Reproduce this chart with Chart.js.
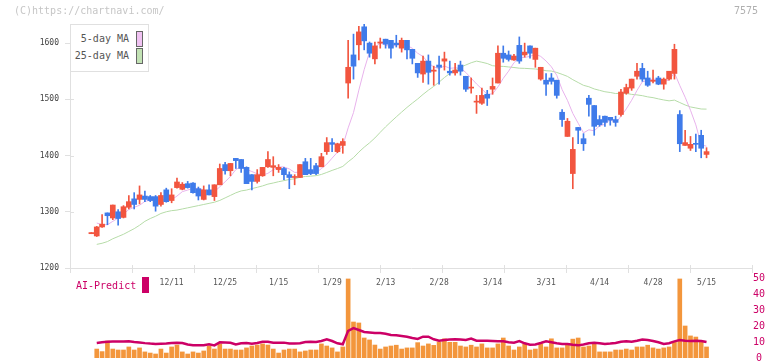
<!DOCTYPE html>
<html>
<head>
<meta charset="utf-8">
<script src="https://cdn.jsdelivr.net/npm/chart.js@4.4.1/dist/chart.umd.min.js"></script>
<style>
  body { margin: 0; background: #fff; }
  #wrap { position: relative; width: 772px; height: 361px; overflow: hidden; font-family: "DejaVu Sans Mono", monospace; }
  canvas { position: absolute; left: 0; }
  #main { top: 0; }
  #sub { top: 268px; }
  .txt { position: absolute; font-size: 10px; line-height: 12px; white-space: nowrap; z-index: 5; }
  #legend { position: absolute; left: 70px; top: 24px; width: 79px; height: 48px; box-sizing: border-box;
            border: 1px solid #e0e0e0; background: #fff; z-index: 4; }
  .sw { position: absolute; width: 7px; height: 16px; box-sizing: border-box; border: 1px solid #666; z-index: 5; }
</style>
</head>
<body>
<div id="wrap">
  <canvas id="main" width="772" height="300"></canvas>
  <canvas id="sub" width="772" height="100"></canvas>
  <div class="txt" style="left:14px; top:5px; color:#c6c6c6;">(C)https://chartnavi.com/</div>
  <div class="txt" style="right:14px; top:5px; color:#b0b0b0;">7575</div>
  <div id="legend"></div>
  <div class="txt" style="right:643px; top:33px; color:#555;">5-day MA</div>
  <div class="txt" style="right:643px; top:50px; color:#555;">25-day MA</div>
  <div class="sw" style="left:136px; top:31px; background:#f0c2f2;"></div>
  <div class="sw" style="left:136px; top:48px; background:#c2e2b4;"></div>
  <div class="txt" style="left:76px; top:280px; color:#cc0066;">AI-Predict</div>
  <div style="position:absolute; left:142px; top:277px; width:7px; height:16px; background:#cc0066; z-index:5;"></div>
</div>
<script>
// daily candles, index 0 .. 115 (last = 5/15)
const opens = [1261,1257,1273,1298,1289,1300,1290,1308,1323,1322,1328,1327,1327,1313,1339,1320,1343,1340,1350,1351,
  1341,1322,1339,1327,1348,1384,1373,1395,1393,1379,1366,1354,1364,1380,1379,1375,1377,1366,1361,1361,
  1389,1375,1382,1380,1407,1423,1407,1418,1529,1579,1597,1629,1600,1572,1600,1607,1605,1600,1591,1605,
  1589,1564,1545,1568,1550,1561,1568,1550,1547,1561,1541,1520,1495,1493,1509,1518,1529,1582,1579,1570,
  1596,1579,1595,1571,1536,1534,1538,1534,1477,1434,1368,1450,1430,1502,1489,1464,1470,1468,1464,1473,
  1511,1520,1541,1555,1538,1532,1538,1527,1536,1546,1473,1418,1413,1421,1436,1402];
const highs = [1263,1274,1295,1298,1312,1304,1311,1329,1334,1346,1337,1329,1329,1334,1342,1341,1360,1352,1354,1352,
  1344,1346,1348,1348,1385,1388,1386,1395,1393,1380,1366,1375,1379,1407,1398,1384,1379,1371,1366,1384,
  1395,1395,1386,1404,1432,1430,1422,1430,1605,1616,1630,1634,1602,1602,1609,1607,1605,1614,1609,1605,
  1589,1564,1577,1579,1559,1577,1584,1568,1564,1568,1541,1538,1507,1520,1516,1538,1595,1595,1586,1580,
  1611,1600,1595,1591,1557,1546,1546,1534,1482,1466,1432,1450,1439,1507,1489,1471,1470,1468,1470,1518,
  1527,1536,1564,1564,1550,1552,1541,1538,1550,1598,1480,1445,1434,1438,1445,1414];
const lows = [1261,1256,1272,1277,1286,1276,1289,1305,1305,1314,1318,1318,1301,1310,1317,1316,1342,1339,1342,1333,
  1321,1321,1330,1320,1348,1367,1364,1377,1370,1350,1339,1351,1363,1379,1364,1370,1357,1341,1348,1361,
  1366,1366,1366,1380,1402,1407,1405,1404,1502,1536,1570,1588,1575,1563,1591,1591,1573,1593,1584,1572,
  1563,1539,1530,1527,1525,1527,1552,1543,1543,1543,1514,1511,1475,1491,1489,1509,1529,1566,1568,1569,
  1564,1575,1573,1557,1534,1507,1527,1502,1452,1434,1341,1421,1409,1470,1436,1452,1452,1454,1452,1470,
  1509,1516,1536,1532,1523,1529,1526,1518,1534,1536,1407,1418,1409,1407,1396,1396];
const closes = [1263,1273,1278,1293,1312,1288,1309,1318,1313,1330,1322,1320,1310,1329,1318,1330,1353,1349,1343,1334,
  1328,1339,1330,1348,1377,1373,1386,1391,1377,1350,1354,1366,1379,1393,1382,1379,1366,1361,1362,1384,
  1366,1368,1368,1398,1423,1420,1421,1425,1557,1559,1620,1604,1582,1595,1602,1598,1591,1597,1605,1588,
  1573,1547,1568,1548,1552,1557,1572,1547,1552,1550,1518,1521,1496,1507,1502,1523,1582,1573,1571,1577,
  1568,1584,1582,1591,1557,1527,1532,1507,1464,1461,1411,1445,1421,1491,1452,1455,1459,1463,1459,1513,
  1521,1536,1550,1536,1525,1534,1527,1536,1550,1589,1421,1423,1420,1420,1413,1407];

const ma5 = [null,1280,1277,1277,1283,1288.8,1296,1304,1308,1311.6,1318.4,1320.6,1319,1322.2,1319.8,1321.4,1328,1335.8,1338.6,1341.8,
  1341.4,1338.6,1334.8,1335.8,1344.4,1353.4,1362.8,1375,1380.8,1375.4,1371.6,1367.6,1365.2,1368.4,1374.8,1379.8,1379.8,1376.2,1370,1370.4,
  1367.8,1368.2,1369.6,1376.8,1384.6,1395.4,1406,1417.4,1449.2,1476.4,1516.4,1553,1584.4,1592,1600.6,1596.2,1593.6,1596.6,1598.6,1595.8,
  1590.8,1582,1576.2,1564.8,1557.6,1554.4,1559.4,1555.2,1556,1555.6,1547.8,1537.6,1527.4,1518.4,1508.8,1509.8,1522,1537.4,1550.2,1565.2,
  1574.2,1574.6,1576.4,1580.4,1576.4,1568.2,1557.8,1542.8,1517.4,1498.2,1475,1457.6,1440.4,1445.8,1444,1452.8,1455.6,1464,1457.6,1469.8,
  1483,1498.4,1515.8,1531.2,1533.6,1536.2,1534.4,1531.6,1534.4,1547.2,1524.6,1503.8,1480.6,1454.6,1419.4,1416.6];
const ma25 = [null,1242,1244,1247,1252,1256,1260,1265,1270,1276,1283,1288,1292,1297,1300,1302,1303,1305,1307,1309,
  1311,1313,1315,1317,1320.2,1324.7,1329.2,1333.7,1337.1,1338.6,1341.2,1343.5,1346,1349.2,1351.2,1353.5,1355.4,1357.4,1358.7,1361.4,
  1362.8,1363.4,1364.2,1366.4,1369.9,1373.6,1376.9,1380.7,1389,1396.3,1406.2,1414.9,1422.6,1431.3,1441.4,1451.1,1460.1,1468.8,1477.3,1485.6,
  1493.3,1500.6,1508.8,1516.3,1523,1530.6,1538.8,1546,1552.1,1557.2,1561.1,1565.1,1568,1566,1563.7,1559.8,1558.9,1558.6,1557.6,1556.6,
  1555.4,1555.1,1554.5,1554,1552.7,1550.9,1550.3,1547.8,1544.5,1540.8,1535,1529.9,1524.9,1522.4,1518.5,1516,1513.5,1512.2,1510.3,1510.7,
  1510.6,1508.8,1507.9,1506.5,1504.4,1503,1500.8,1498.9,1497.3,1498.6,1494.3,1490,1486.5,1484.7,1482.8,1482.6];

const volume = [null,5.6,4.0,10.6,5.6,5.0,5.0,6.9,5.0,6.3,3.8,3.1,2.5,5.6,3.1,6.9,8.1,3.8,2.5,3.8,
  3.1,4.4,7.5,5.6,8.8,5.6,5.6,5.0,5.0,6.3,7.5,8.1,8.8,8.1,5.6,3.1,5.0,5.6,5.6,3.8,
  4.4,5.0,5.0,8.8,7.5,6.3,3.8,6.9,49.4,22.5,21.9,12.5,11.3,8.1,5.6,6.9,7.5,8.0,5.6,6.3,
  6.3,9.6,7.5,8.8,7.9,10.0,12.0,9.8,9.8,7.5,6.9,8.0,6.9,8.8,6.3,6.3,8.8,12.5,7.5,5.0,
  6.9,8.8,5.0,5.6,8.8,6.9,12.0,6.3,6.3,8.5,11.8,12.5,6.9,7.5,9.4,3.8,3.8,3.8,5.0,5.0,
  5.6,5.0,6.9,6.9,8.0,6.3,5.6,6.3,6.9,10.0,49.4,20.0,13.8,13.1,10.6,6.9];
const aiPredict = [null,9.4,9.8,10.2,10.3,10.3,10.3,10.4,10.0,9.7,9.3,9.0,8.8,8.9,9.0,9.3,9.5,9.4,8.5,8.0,
  7.9,8.0,8.6,7.9,9.8,9.7,9.5,8.5,9.2,9.3,8.9,9.4,10.2,10.1,9.6,9.5,9.6,9.0,9.0,9.2,
  10.0,10.1,10.0,10.6,11.7,10.6,9.2,8.6,17.0,18.7,17.5,16.3,16.0,15.6,15.6,15.2,14.4,14.2,13.8,13.3,
  12.5,11.9,13.3,13.3,11.7,10.8,11.3,11.5,11.7,11.5,11.3,12.1,10.8,10.8,10.8,10.6,10.4,10.4,9.8,9.6,
  10.6,9.2,8.3,8.5,9.4,10.4,9.8,9.2,8.8,8.8,8.3,7.9,8.5,9.2,9.6,9.2,8.8,9.0,9.4,10.2,
  10.4,10.2,10.8,11.5,11.3,10.6,9.8,8.8,9.2,10.4,11.3,10.8,10.6,10.8,10.6,10.0];

const dateTickIdx = [15, 25, 35, 45, 55, 65, 75, 85, 95, 105, 115];
const dateTickLabels = ['12/11', '12/25', '1/15', '1/29', '2/13', '2/28', '3/14', '3/31', '4/14', '4/28', '5/15'];
const priceTicks = [1200, 1300, 1400, 1500, 1600];

const UP = '#f2553f';
const DOWN = '#3f7bea';
const AXIS = '#e0e0e0';
const X_MIN = -4, X_MAX = 123.5;

Chart.defaults.font.family = '"DejaVu Sans Mono", monospace';

const idx = closes.map((c, i) => i);
const candleColor = idx.map(i => closes[i] >= opens[i] ? UP : DOWN);

// short tick stubs on the inner side of the axes
const innerTicks = {
    id: 'innerTicks',
    afterDraw(chart) {
        const { ctx, chartArea: a, scales } = chart;
        ctx.save();
        ctx.strokeStyle = AXIS;
        ctx.lineWidth = 1;
        ctx.beginPath();
        scales.x.ticks.forEach(t => {
            const px = Math.round(scales.x.getPixelForValue(t.value)) + 0.5;
            ctx.moveTo(px, a.bottom - 3);
            ctx.lineTo(px, a.bottom);
        });
        scales.y.ticks.forEach(t => {
            const py = Math.round(scales.y.getPixelForValue(t.value)) + 0.5;
            ctx.moveTo(a.left, py);
            ctx.lineTo(a.left + 4, py);
        });
        ctx.stroke();
        ctx.restore();
    }
};

new Chart(document.getElementById('main'), {
    type: 'bar',
    data: {
        datasets: [
            {
                type: 'line',
                data: idx.map(i => ({ x: i, y: ma5[i] })),
                borderColor: '#e8b2ec',
                borderWidth: 1,
                pointRadius: 0,
                order: 2
            },
            {
                type: 'line',
                data: idx.map(i => ({ x: i, y: ma25[i] })),
                borderColor: '#b6dca8',
                borderWidth: 1,
                pointRadius: 0,
                order: 2
            },
            {
                data: idx.map(i => ({ x: i, y: [lows[i], highs[i]] })),
                backgroundColor: candleColor,
                barThickness: 1,
                grouped: false,
                order: 1
            },
            {
                data: idx.map(i => ({ x: i, y: [opens[i], closes[i]] })),
                backgroundColor: candleColor,
                barThickness: 5,
                minBarLength: 1,
                grouped: false,
                order: 0
            }
        ]
    },
    options: {
        responsive: false,
        animation: false,
        devicePixelRatio: 1,
        layout: { padding: { left: 0, right: 20, top: 24, bottom: 0 } },
        plugins: { legend: { display: false }, tooltip: { enabled: false } },
        scales: {
            x: {
                type: 'linear',
                min: X_MIN,
                max: X_MAX,
                offset: false,
                afterBuildTicks: s => {
                    const step = (s.max - s.min) / 11;
                    s.ticks = Array.from({ length: 12 }, (v, k) => ({ value: s.min + k * step }));
                },
                afterFit: s => { s.height = 5; },
                ticks: { display: false },
                grid: { offset: false, drawOnChartArea: false, tickLength: 5, color: AXIS },
                border: { color: AXIS }
            },
            xd: {
                type: 'linear',
                position: 'bottom',
                min: X_MIN,
                max: X_MAX,
                offset: false,
                afterBuildTicks: s => { s.ticks = dateTickIdx.map(v => ({ value: v })); },
                afterFit: s => { s.height = 27; },
                ticks: {
                    autoSkip: false,
                    maxRotation: 0,
                    padding: 5,
                    color: '#555',
                    font: { size: 8 },
                    callback: v => dateTickLabels[dateTickIdx.indexOf(v)]
                },
                grid: { display: false, drawTicks: false },
                border: { display: false }
            },
            y: {
                min: 1200,
                max: 1634,
                afterBuildTicks: s => { s.ticks = priceTicks.map(v => ({ value: v })); },
                afterFit: s => { s.width = 70; },
                ticks: { color: '#444', font: { size: 8 }, padding: 6, callback: v => String(v) },
                grid: { drawOnChartArea: false, tickLength: 5, color: AXIS },
                border: { color: AXIS }
            }
        }
    },
    plugins: [innerTicks]
});

new Chart(document.getElementById('sub'), {
    type: 'bar',
    data: {
        datasets: [
            {
                type: 'line',
                data: idx.map(i => ({ x: i, y: aiPredict[i] })),
                borderColor: '#cc0066',
                borderWidth: 2.5,
                pointRadius: 0,
                order: 0
            },
            {
                data: idx.map(i => ({ x: i, y: volume[i] })),
                backgroundColor: '#f3963c',
                barThickness: 4,
                order: 1
            }
        ]
    },
    options: {
        responsive: false,
        animation: false,
        devicePixelRatio: 1,
        layout: { padding: { left: 70, right: 5, top: 10, bottom: 10 } },
        plugins: { legend: { display: false }, tooltip: { enabled: false } },
        scales: {
            x: { type: 'linear', min: X_MIN, max: X_MAX, offset: false, display: false },
            y: {
                position: 'right',
                min: 0,
                max: 50,
                afterFit: s => { s.width = 15; },
                ticks: { stepSize: 10, color: '#cc0066', font: { size: 10 }, padding: 1, crossAlign: 'center' },
                grid: { display: false, drawTicks: false },
                border: { display: false }
            }
        }
    }
});
</script>
</body>
</html>
